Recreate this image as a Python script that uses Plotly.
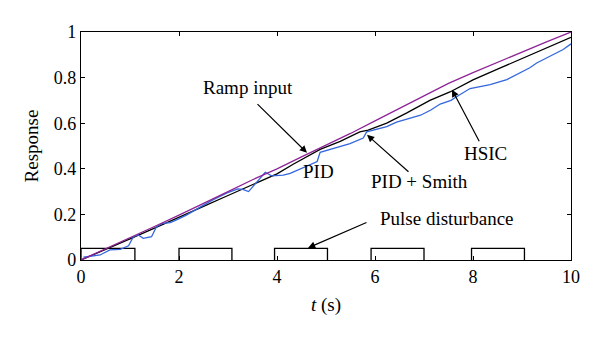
import plotly.graph_objects as go

# ---- data ----
ramp_t = [0, 0.5, 1, 1.5, 2, 2.5, 3, 3.5, 4, 4.5, 5, 5.5, 6, 6.5, 7, 7.5, 8, 8.5, 9, 9.5, 10]
ramp_v = [0, 0.048, 0.097, 0.147, 0.197, 0.25, 0.30, 0.352, 0.40, 0.452, 0.503, 0.555,
          0.61, 0.665, 0.72, 0.775, 0.822, 0.868, 0.913, 0.957, 1.0]

black_t = [0, 0.5, 1, 1.5, 2, 2.5, 3, 3.5, 4, 4.33, 4.88, 5.29, 5.69, 5.86, 6.24, 6.65,
           7.12, 7.53, 8, 8.5, 9, 9.5, 10]
black_v = [0, 0.045, 0.093, 0.14, 0.186, 0.235, 0.283, 0.33, 0.378, 0.42, 0.485, 0.52,
           0.562, 0.57, 0.60, 0.645, 0.70, 0.737, 0.79, 0.837, 0.884, 0.93, 0.977]

blue_t = [0.05, 0.39, 0.59, 0.8, 0.97, 1.07, 1.17, 1.27, 1.44, 1.54, 1.67, 1.82, 1.95,
          2.16, 2.43, 2.7, 2.97, 3.2, 3.3, 3.42, 3.6, 3.76, 3.89, 4.13, 4.27, 4.47, 4.82,
          4.88, 5.15, 5.49, 5.76, 5.83, 6.24, 6.44, 6.93, 7.14, 7.33, 7.55, 7.73, 7.94,
          8.35, 8.69, 9.16, 9.3, 9.5, 9.84, 10]
blue_v = [0.012, 0.022, 0.044, 0.047, 0.062, 0.102, 0.11, 0.095, 0.102, 0.146, 0.161,
          0.164, 0.176, 0.198, 0.232, 0.265, 0.293, 0.312, 0.31, 0.30, 0.345, 0.385,
          0.369, 0.372, 0.38, 0.40, 0.432, 0.472, 0.49, 0.51, 0.535, 0.562, 0.585,
          0.605, 0.635, 0.658, 0.684, 0.70, 0.725, 0.752, 0.769, 0.791, 0.843, 0.864,
          0.886, 0.923, 0.948]

pulse_start = [0, 2, 3.95, 5.92, 7.97]
pulse_end = [1.1, 3.08, 5.03, 7.0, 9.05]
pulse_height = 0.051

x_ticks = [0, 2, 4, 6, 8, 10]
y_ticks = [0, 0.2, 0.4, 0.6, 0.8, 1]

labels = ["Ramp input", "PID", "PID + Smith", "HSIC", "Pulse disturbance"]
label_x = [3.418, 4.837, 6.918, 8.245, 7.469]
label_y = [0.756, 0.387, 0.343, 0.467, 0.180]

# arrows: (tail_x, tail_y, tip_x, tip_y)
arrows = [
    (3.571, 0.690, 4.612, 0.470),
    (6.714, 0.381, 5.837, 0.549),
    (8.143, 0.514, 7.571, 0.747),
    (5.857, 0.167, 4.633, 0.053),
]

# ---- build pulse outline ----
px, py = [], []
for s, e in zip(pulse_start, pulse_end):
    px += [s, s, e, e, None]
    py += [0, pulse_height, pulse_height, 0, None]

FONT = "Liberation Serif"
fig = go.Figure()
fig.add_trace(go.Scatter(x=px, y=py, mode="lines", line=dict(color="black", width=1.3),
                         showlegend=False, hoverinfo="skip"))
fig.add_trace(go.Scatter(x=black_t, y=black_v, mode="lines",
                         line=dict(color="black", width=1.3), showlegend=False))
fig.add_trace(go.Scatter(x=blue_t, y=blue_v, mode="lines",
                         line=dict(color="#3366DD", width=1.3), showlegend=False))
fig.add_trace(go.Scatter(x=ramp_t, y=ramp_v, mode="lines",
                         line=dict(color="#8E2496", width=1.3), showlegend=False))

for txt, x, y in zip(labels, label_x, label_y):
    fig.add_annotation(x=x, y=y, xref="x", yref="y", text=txt, showarrow=False,
                       font=dict(family=FONT, size=19, color="black"))

for tx, ty, hx, hy in arrows:
    fig.add_annotation(x=hx, y=hy, ax=tx, ay=ty, xref="x", yref="y", axref="x", ayref="y",
                       text="", showarrow=True, arrowhead=2, arrowsize=1.2, arrowwidth=1.2,
                       arrowcolor="black", standoff=0, startstandoff=0)

axis_common = dict(showline=True, linecolor="black", linewidth=1.2, mirror="ticks",
                   ticks="inside", ticklen=4, tickwidth=1, tickcolor="black",
                   showgrid=False, zeroline=False,
                   tickfont=dict(family=FONT, size=18, color="black"))

fig.update_xaxes(range=[0, 10], tickvals=x_ticks,
                 title=dict(text="<i>t</i> (s)", font=dict(family=FONT, size=19, color="black"),
                            standoff=11),
                 **axis_common)
fig.update_yaxes(range=[0, 1], tickvals=y_ticks,
                 title=dict(text="Response", font=dict(family=FONT, size=19, color="black"),
                            standoff=10),
                 **axis_common)

fig.update_layout(width=600, height=339, margin=dict(l=81, r=29, t=32, b=79),
                  paper_bgcolor="white", plot_bgcolor="white",
                  font=dict(family=FONT, color="black"))

fig.write_html("out.html", config={"displayModeBar": False})
